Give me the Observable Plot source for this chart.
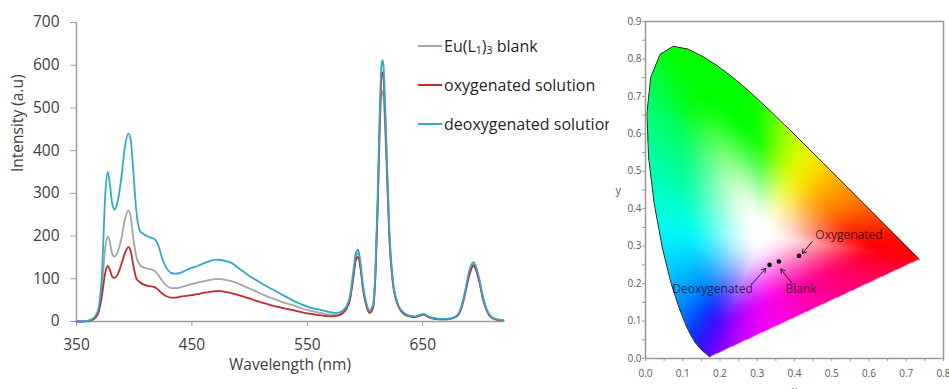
<!DOCTYPE html>
<html>
<head>
<meta charset="utf-8">
<script src="https://cdn.jsdelivr.net/npm/d3@7"></script>
<script src="https://cdn.jsdelivr.net/npm/@observablehq/plot@0.6"></script>
<style>
  body { margin: 0; background: #fff; }
  #wrap { position: relative; width: 949px; height: 389px; background: #fff; overflow: hidden; font-family: "Open Sans", sans-serif; }
  #left { position: absolute; left: 0; top: 0; }
  #right { position: absolute; left: 609px; top: 0; z-index: 2; background: #fff; }
  #legend { position: absolute; left: 418px; top: 26px; z-index: 1; font-size: 16px; color: #262626; white-space: nowrap; }
  #legend .row { display: flex; align-items: center; height: 39px; }
  #legend svg { display: block; margin-right: 2px; }
  #legend sub { font-size: 10.5px; vertical-align: -2px; line-height: 0; }
</style>
</head>
<body>
<div id="wrap">
  <div id="left"></div>
  <div id="legend"></div>
  <div id="right"></div>
</div>
<script>
// ---------- Emission spectra (left panel) ----------
const wavelength = [350,355,360,363,366,369,372,375,377,379,381,383,386,389,392,395,397,399,402,405,408,411,415,418,421,424,428,432,436,440,445,450,455,460,465,470,475,480,485,490,495,500,505,510,515,520,525,530,535,540,545,550,555,560,565,570,575,580,584,587,590,592,594,596,598,601,604,607,609,611,613,614,615,616,617,619,621,624,628,632,637,643,648,651,655,660,665,670,675,680,684,687,690,692,694,696,699,702,706,710,715,720];

const blank = [0,0,1,4,10,25,80,175,199,185,158,152,165,195,240,260,245,200,150,132,127,124,122,118,108,96,84,78,78,80,84,88,91,94,97,99,99,97,94,89,83,77,71,65,59,54,49,44,40,36,31,27,24,21,18,16,15,20,32,55,110,150,160,132,85,42,24,37,110,270,470,525,540,528,480,340,200,92,42,23,14,11,15,17,11,7,5,5,7,14,38,72,110,127,134,126,97,58,24,9,4,2];

const oxygenated = [0,0,1,3,8,20,60,115,130,120,105,102,112,135,160,174,165,135,100,92,87,84,82,80,74,66,59,56,56,58,60,62,64,67,69,71,71,69,66,62,58,54,49,45,41,37,34,31,28,25,22,19,17,15,13,12,13,18,30,52,105,143,151,126,80,38,20,32,105,270,490,560,584,575,515,360,205,95,42,22,13,10,14,16,10,6,5,5,7,13,35,68,104,122,131,122,93,55,22,8,4,2];

const deoxygenated = [0,0,2,5,12,30,110,300,350,320,275,262,285,340,410,440,425,360,255,212,205,200,196,192,178,150,125,114,112,114,120,126,130,136,141,145,144,141,136,126,116,106,98,90,82,75,68,60,53,46,40,35,31,28,25,22,20,24,36,60,120,160,168,140,90,45,26,40,120,300,520,590,612,600,540,380,220,100,45,25,15,12,16,18,12,8,6,6,8,15,40,75,115,132,139,130,100,60,25,10,5,3];

const seriesColors = ["#a6a6a6", "#be2b2e", "#33a9c9"];
const seriesValues = [blank, oxygenated, deoxygenated];

const xTicks = [350, 450, 550, 650];
const yTicks = [0, 100, 200, 300, 400, 500, 600, 700];

const rows = seriesValues.map(vals => wavelength.map((w, i) => ({w, v: vals[i]})));

const left = Plot.plot({
  width: 620, height: 389,
  marginLeft: 76, marginRight: 117, marginTop: 22, marginBottom: 68,
  style: {fontFamily: "Open Sans, sans-serif", fontSize: "15px", background: "transparent"},
  x: {domain: [350, 720]},
  y: {domain: [0, 700]},
  marks: [
    Plot.ruleX([350], {y1: 0, y2: 700, stroke: "#a0a0a0", strokeWidth: 1.5}),
    Plot.ruleY([0], {stroke: "#a0a0a0", strokeWidth: 1.5}),
    Plot.axisY({ticks: yTicks, tickSize: 6, tickPadding: 11, stroke: "#a0a0a0", fill: "#404040", fontSize: 15.5, label: null}),
    Plot.axisX({ticks: xTicks, tickSize: 5, tickPadding: 12, stroke: "#a0a0a0", fill: "#404040", fontSize: 15.5, label: null}),
    ...rows.map((r, k) => Plot.line(r, {x: "w", y: "v", stroke: seriesColors[k], strokeWidth: 1.8, curve: "monotone-x"})),
    Plot.text(["Intensity (a.u)"], {frameAnchor: "left", rotate: -90, dx: -58, fill: "#404040", fontSize: 15.5}),
    Plot.text(["Wavelength (nm)"], {frameAnchor: "bottom", dy: 48, fill: "#404040", fontSize: 15.5})
  ]
});
document.getElementById("left").appendChild(left);

// legend
const legendHTML = [
  "Eu(L<sub>1</sub>)<sub>3</sub> blank",
  "oxygenated solution",
  "deoxygenated solution"
];
document.getElementById("legend").innerHTML = legendHTML.map((t, k) =>
  `<div class="row"><svg width="24" height="4"><line x1="0" x2="24" y1="2" y2="2" stroke="${seriesColors[k]}" stroke-width="2"/></svg><span>${t}</span></div>`
).join("");

// ---------- CIE 1931 chromaticity diagram (right panel) ----------
const locusX = [0.1741,0.1733,0.1714,0.1689,0.1644,0.1566,0.1440,0.1355,0.1241,0.1096,0.0913,0.0687,0.0454,0.0235,0.0082,0.0039,0.0139,0.0389,0.0743,0.1142,0.1547,0.1929,0.2296,0.2658,0.3016,0.3373,0.3731,0.4087,0.4441,0.4788,0.5125,0.5448,0.5752,0.6029,0.6270,0.6482,0.6658,0.6915,0.7079,0.7190,0.7260,0.7300,0.7334,0.7347];
const locusY = [0.0050,0.0048,0.0051,0.0069,0.0109,0.0177,0.0297,0.0399,0.0578,0.0868,0.1327,0.2007,0.2950,0.4127,0.5384,0.6548,0.7502,0.8120,0.8338,0.8262,0.8059,0.7816,0.7543,0.7243,0.6923,0.6589,0.6245,0.5896,0.5547,0.5202,0.4866,0.4544,0.4242,0.3965,0.3725,0.3514,0.3340,0.3083,0.2920,0.2809,0.2740,0.2700,0.2666,0.2653];

const sampleNames = ["Deoxygenated", "Blank", "Oxygenated"];
const sampleX = [0.333, 0.358, 0.412];
const sampleY = [0.250, 0.259, 0.274];

// annotation labels and arrows
const labelX = [0.072, 0.376, 0.456];
const labelY = [0.186, 0.186, 0.329];
const arrowFromX = [0.287, 0.394, 0.447];
const arrowFromY = [0.200, 0.200, 0.312];
const arrowToX = [0.323, 0.363, 0.421];
const arrowToY = [0.241, 0.239, 0.280];

const locus = locusX.map((x, i) => ({x, y: locusY[i]}));
const poly = locus.map(d => [d.x, d.y]);
const samples = sampleNames.map((n, i) => ({n, x: sampleX[i], y: sampleY[i]}));
const labels = sampleNames.map((n, i) => ({n, x: labelX[i], y: labelY[i]}));
const arrows = sampleNames.map((n, i) => ({x1: arrowFromX[i], y1: arrowFromY[i], x2: arrowToX[i], y2: arrowToY[i]}));

// --- colour rendering helpers (white point D65) ---
const WX = 0.3127, WY = 0.329;
function gam(c) { return c <= 0.0031308 ? 12.92 * c : 1.055 * Math.pow(c, 1 / 2.4) - 0.055; }
function pureColor(x, y) {
  const X = x / y, Y = 1, Z = (1 - x - y) / y;
  let r = Math.max(0, 3.2406 * X - 1.5372 * Y - 0.4986 * Z);
  let g = Math.max(0, -0.9689 * X + 1.8758 * Y + 0.0415 * Z);
  let b = Math.max(0, 0.0557 * X - 0.2040 * Y + 1.0570 * Z);
  const m = Math.max(r, g, b) || 1;
  return [gam(r / m), gam(g / m), gam(b / m)];
}
// boundary arc length parameterisation
const nP = poly.length;
const edgeLen = [], cum = [0];
for (let i = 0; i < nP; ++i) {
  const a = poly[i], b = poly[(i + 1) % nP];
  edgeLen.push(Math.hypot(b[0] - a[0], b[1] - a[1]));
  cum.push(cum[i] + edgeLen[i]);
}
const perim = cum[nP];
const M = 720;
function pointAt(s) {
  let i = 0;
  while (i < nP - 1 && cum[i + 1] < s) ++i;
  const u = (s - cum[i]) / edgeLen[i];
  const a = poly[i], b = poly[(i + 1) % nP];
  return [a[0] + u * (b[0] - a[0]), a[1] + u * (b[1] - a[1])];
}
const rawB = d3.range(M).map(k => {
  const p = pointAt((k + 0.5) / M * perim);
  return pureColor(WX + (p[0] - WX) * 0.995, WY + (p[1] - WY) * 0.995);
});
const sig = 14, kern = d3.range(-3 * sig, 3 * sig + 1).map(o => Math.exp(-o * o / (2 * sig * sig)));
const kSum = d3.sum(kern);
const blurB = d3.range(M).map(k => {
  const c = [0, 0, 0];
  kern.forEach((w, j) => {
    const q = rawB[(k + j - 3 * sig + M * 4) % M];
    c[0] += w * q[0]; c[1] += w * q[1]; c[2] += w * q[2];
  });
  return c.map(v => v / kSum);
});
function boundaryHit(dx, dy) {
  let best = Infinity, arc = 0;
  for (let i = 0; i < nP; ++i) {
    const a = poly[i], b = poly[(i + 1) % nP];
    const ex = b[0] - a[0], ey = b[1] - a[1];
    const den = dx * ey - dy * ex;
    if (Math.abs(den) < 1e-12) continue;
    const ax = a[0] - WX, ay = a[1] - WY;
    const t = (ax * ey - ay * ex) / den;
    const u = (ax * dy - ay * dx) / den;
    if (t > 0 && u >= 0 && u <= 1 && t < best) { best = t; arc = cum[i] + u * edgeLen[i]; }
  }
  return [best, arc];
}
function smooth(e0, e1, v) { const t = Math.min(1, Math.max(0, (v - e0) / (e1 - e0))); return t * t * (3 - 2 * t); }
function cieColor(x, y) {
  if (!d3.polygonContains(poly, [x, y])) return null;
  const dx = x - WX, dy = y - WY;
  const [t, arc] = boundaryHit(dx, dy);
  if (!isFinite(t)) return "rgb(255,255,255)";
  const s = 1 / t;
  const c = blurB[Math.min(M - 1, Math.floor(arc / perim * M))];
  const f = smooth(0.03, 0.78, s);
  const r = 1 - f + c[0] * f, g = 1 - f + c[1] * f, b = 1 - f + c[2] * f;
  return `rgb(${Math.round(r * 255)},${Math.round(g * 255)},${Math.round(b * 255)})`;
}

const minorX = d3.range(0, 0.8001, 0.05);
const minorY = d3.range(0, 0.9001, 0.05);
const fmt = d => (Math.abs(d * 10 - Math.round(d * 10)) < 1e-6) ? d.toFixed(1) : "";

const right = Plot.plot({
  width: 340, height: 389,
  marginLeft: 36, marginRight: 6, marginTop: 21, marginBottom: 31,
  style: {fontFamily: "Open Sans, sans-serif", background: "#fff"},
  x: {domain: [0, 0.8]},
  y: {domain: [0, 0.9]},
  color: {type: "identity"},
  marks: [
    Plot.raster({x1: 0, x2: 0.8, y1: 0, y2: 0.9, fill: cieColor, pixelSize: 1}),
    Plot.line(locus, {x: "x", y: "y", stroke: "#2a2a2a", strokeWidth: 1}),
    Plot.frame({stroke: "#999", strokeWidth: 1.5}),
    Plot.axisX({ticks: minorX, tickFormat: fmt, tickSize: 3, tickPadding: 8, stroke: "#999", fill: "#595959", fontSize: 10, label: null}),
    Plot.axisY({ticks: minorY, tickFormat: fmt, tickSize: 3, tickPadding: 1, stroke: "#999", fill: "#595959", fontSize: 10, label: null}),
    Plot.dot(samples, {x: "x", y: "y", r: 2.3, fill: "#111"}),
    Plot.arrow(arrows, {x1: "x1", y1: "y1", x2: "x2", y2: "y2", stroke: "#222", strokeWidth: 1, headLength: 7}),
    Plot.text(labels, {x: "x", y: "y", text: "n", textAnchor: "start", fontSize: 12, fill: "#000", fillOpacity: 0.72}),
    Plot.text(["y"], {frameAnchor: "left", dx: -30, fill: "#595959", fontSize: 11}),
    Plot.text(["x"], {frameAnchor: "bottom", dy: 28, lineAnchor: "top", fill: "#595959", fontSize: 11})
  ]
});
document.getElementById("right").appendChild(right);
</script>
</body>
</html>
